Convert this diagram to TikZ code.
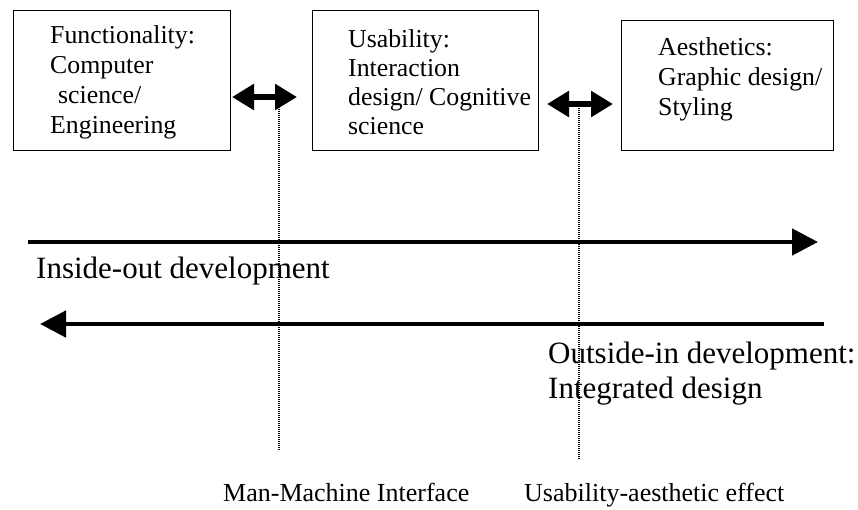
\documentclass[tikz,border=0pt]{standalone}
\usepackage{fontspec}
\setmainfont{Liberation Serif}
\usetikzlibrary{arrows.meta}
\tikzset{
  boxnode/.style={draw, line width=1.3pt, inner sep=0pt, anchor=north west},
  txt/.style={inner sep=0pt, anchor=base west, font=\fontsize{25.8pt}{30pt}\selectfont},
  bigtxt/.style={inner sep=0pt, anchor=base west, font=\fontsize{31pt}{35pt}\selectfont},
  dblarrow/.style={line width=5.5pt, {Triangle[length=22pt,width=25pt]}-{Triangle[length=22pt,width=25pt]}},
  longarrow/.style={line width=4.8pt, -{Triangle[length=26pt,width=26pt]}},
  dotline/.style={line width=1.2pt, dash pattern=on 1pt off 1pt, black}
}
\begin{document}
\begin{tikzpicture}[x=1pt,y=-1pt]
\useasboundingbox (0,0) rectangle (858,509);
% boxes
\node[boxnode, minimum width=217pt, minimum height=140pt] (b1) at (13,10) {};
\node[boxnode, minimum width=226pt, minimum height=140pt] (b2) at (312,10) {};
\node[boxnode, minimum width=212pt, minimum height=130pt] (b3) at (621,20) {};
% box texts
\node[txt] (t11) at (50,43) {Functionality:};
\node[txt] (t12) at (50,73) {Computer};
\node[txt] (t13) at (58,103) {science/};
\node[txt] (t14) at (50,133) {Engineering};
\node[txt] (t21) at (348,47) {Usability:};
\node[txt] (t22) at (348,76) {Interaction};
\node[txt] (t23) at (348,105) {design/ Cognitive};
\node[txt] (t24) at (348,134) {science};
\node[txt] (t31) at (658,55) {Aesthetics:};
\node[txt] (t32) at (658,85) {Graphic design/};
\node[txt] (t33) at (658,115) {Styling};
% double arrows
\coordinate (a1l) at (232,97);
\coordinate (a1r) at (297,97);
\coordinate (a2l) at (547,104);
\coordinate (a2r) at (613,104);
\coordinate (d1t) at (279,97);
\coordinate (d1b) at (279,451);
\coordinate (d2t) at (579,104);
\coordinate (d2b) at (579,460);
\draw[dotline] (d1t) -- (d1b);
\draw[dotline] (d2t) -- (d2b);
\draw[dblarrow] (a1l) -- (a1r);
\draw[dblarrow] (a2l) -- (a2r);
% long arrows
\coordinate (l1s) at (28,242);
\coordinate (l1e) at (818,242);
\coordinate (l2s) at (824,324);
\coordinate (l2e) at (40,324);
\draw[longarrow] (l1s) -- (l1e);
\draw[longarrow] (l2s) -- (l2e);
% labels
\node[bigtxt] (in) at (36,278) {Inside-out development};
\node[bigtxt] (out1) at (548,363) {Outside-in development:};
\node[bigtxt] (out2) at (548,398) {Integrated design};
\node[txt, font=\fontsize{26pt}{30pt}\selectfont] (mmi) at (223,501) {Man-Machine Interface};
\node[txt, font=\fontsize{26pt}{30pt}\selectfont] (uae) at (524,501) {Usability-aesthetic effect};
\end{tikzpicture}
\end{document}
